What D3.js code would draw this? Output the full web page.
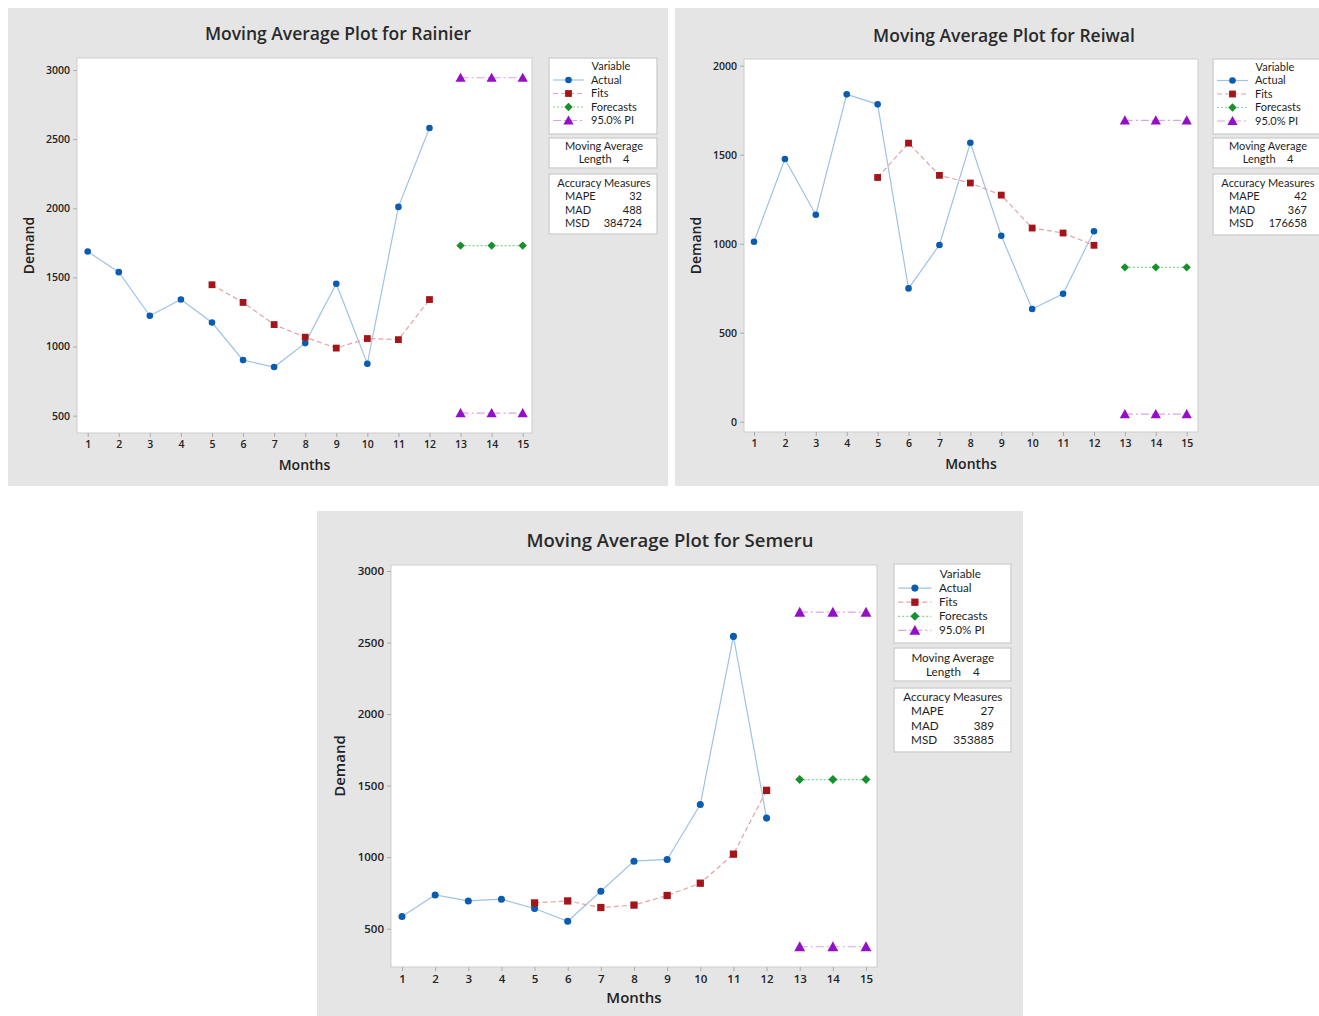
<!DOCTYPE html>
<html>
<head>
<meta charset="utf-8">
<script src="https://cdn.jsdelivr.net/npm/d3@7"></script>
<style>
  body { margin: 0; background: #fff; }
  svg { display: block; }
  text { font-family: "Open Sans", "Noto Sans", sans-serif; fill: #222; }
</style>
</head>
<body>
<svg id="chart" width="1319" height="1016"></svg>
<script>
// months on the x axis (12 observed + 3 forecast)
var months = [1,2,3,4,5,6,7,8,9,10,11,12,13,14,15];
var obsMonths = [1,2,3,4,5,6,7,8,9,10,11,12];
var fitMonths = [5,6,7,8,9,10,11,12];
var fcMonths = [13,14,15];

// Rainier
var rainierActual = [1687,1538,1223,1340,1174,902,852,1025,1454,876,2010,2581];
var rainierFits = [1447,1319,1159,1068,989,1058,1050,1340];
var rainierForecast = [1730,1730,1730];
var rainierUpper = [2944,2944,2944];
var rainierLower = [518,518,518];
var rainierTicks = [500,1000,1500,2000,2500,3000];
var rainierAcc = ["32","488","384724"];

// Reiwal
var reiwalActual = [1011,1476,1163,1839,1783,749,993,1567,1045,633,719,1070];
var reiwalFits = [1372,1565,1384,1341,1273,1088,1060,991];
var reiwalForecast = [867,867,867];
var reiwalUpper = [1693,1693,1693];
var reiwalLower = [42,42,42];
var reiwalTicks = [0,500,1000,1500,2000];
var reiwalAcc = ["42","367","176658"];

// Semeru
var semeruActual = [585,736,694,706,641,552,762,972,984,1368,2543,1273];
var semeruFits = [680,694,648,665,732,818,1021,1467];
var semeruForecast = [1542,1542,1542];
var semeruUpper = [2712,2712,2712];
var semeruLower = [374,374,374];
var semeruTicks = [500,1000,1500,2000,2500,3000];
var semeruAcc = ["27","389","353885"];

var legendNames = ["Actual","Fits","Forecasts","95.0% PI"];
var accNames = ["MAPE","MAD","MSD"];

var col = {
  actual: "#0a5cb0", actualLine: "#9fc2e6",
  fits: "#a3141b", fitsLine: "#e2a4a4",
  fc: "#16912c", fcLine: "#86d494",
  pi: "#9310c6", piLine: "#dca2ee"
};

var svg = d3.select("#chart");

function marker(g, type, x, y, s){
  s = s || 1;
  if(type == "actual"){
    g.append("circle").attr("cx", x).attr("cy", y).attr("r", 3.3*s).attr("fill", col.actual);
  } else if(type == "fits"){
    g.append("rect").attr("x", x-3.4*s).attr("y", y-3.4*s).attr("width", 6.8*s).attr("height", 6.8*s).attr("fill", col.fits);
  } else if(type == "fc"){
    var d = 4.2*s;
    g.append("path").attr("d", "M"+x+","+(y-d)+"L"+(x+d)+","+y+"L"+x+","+(y+d)+"L"+(x-d)+","+y+"Z").attr("fill", col.fc);
  } else {
    var h = 4.6*s;
    g.append("path").attr("d", "M"+x+","+(y-h-0.5)+"L"+(x+h+0.5)+","+(y+h-0.5)+"L"+(x-h-0.5)+","+(y+h-0.5)+"Z").attr("fill", col.pi);
  }
}

var styles = {
  actual: {stroke: col.actualLine, dash: null},
  fits: {stroke: col.fitsLine, dash: "5,3"},
  fc: {stroke: col.fcLine, dash: "2,2"},
  pi: {stroke: col.piLine, dash: "8,3,2,3"}
};

function drawPanel(c){
  var g = svg.append("g");
  g.append("rect").attr("x", c.bg[0]).attr("y", c.bg[1]).attr("width", c.bg[2]-c.bg[0]).attr("height", c.bg[3]-c.bg[1]).attr("fill", "#e5e5e5");

  g.append("text").attr("x", c.titleX).attr("y", c.titleY).attr("text-anchor", "middle")
    .style("font-size", c.titleSize+"px").style("font-weight", 600).style("fill", "#2a2a2a").text(c.title);

  var x = d3.scaleLinear().domain([1,15]).range(c.xr);
  var y = d3.scaleLinear().domain(c.yd).range(c.yr);

  g.append("rect").attr("x", c.plot[0]).attr("y", c.plot[1]).attr("width", c.plot[2]-c.plot[0]).attr("height", c.plot[3]-c.plot[1])
    .attr("fill", "#fff").attr("stroke", "#cdcdcd").attr("stroke-width", 1);

  var yAxis = g.append("g").attr("transform", "translate("+c.plot[0]+",0)")
    .call(d3.axisLeft(y).tickValues(c.ticks).tickSize(4).tickPadding(3).tickFormat(d3.format("d")));
  var xAxis = g.append("g").attr("transform", "translate(0,"+c.plot[3]+")")
    .call(d3.axisBottom(x).tickValues(months).tickSize(4).tickPadding(4).tickFormat(d3.format("d")));
  [xAxis, yAxis].forEach(function(a){
    a.select(".domain").remove();
    a.selectAll(".tick line").attr("stroke", "#aaa");
    a.selectAll(".tick text").style("font-size", c.tickSize+"px").style("font-family", "'Open Sans', sans-serif")
      .style("font-weight", 600).attr("fill", "#333");
  });

  g.append("text").attr("transform", "translate("+c.demandX+","+((c.plot[1]+c.plot[3])/2)+") rotate(-90)")
    .attr("text-anchor", "middle").attr("dy", "0.35em").style("font-size", c.labelSize+"px").style("font-weight", 600).text("Demand");
  g.append("text").attr("x", (c.plot[0]+c.plot[2])/2).attr("y", c.monthsY).attr("text-anchor", "middle").attr("dy", "0.35em")
    .style("font-size", c.labelSize+"px").style("font-weight", 600).text("Months");

  var line = d3.line().x(function(d){return x(d[0]);}).y(function(d){return y(d[1]);});
  var series = [
    {k: "actual", m: obsMonths, v: c.actual},
    {k: "fits", m: fitMonths, v: c.fits},
    {k: "fc", m: fcMonths, v: c.forecast},
    {k: "pi", m: fcMonths, v: c.upper},
    {k: "pi", m: fcMonths, v: c.lower}
  ];
  series.forEach(function(s){
    var pts = s.m.map(function(mm, i){return [mm, s.v[i]];});
    g.append("path").datum(pts).attr("d", line).attr("fill", "none")
      .attr("stroke", styles[s.k].stroke).attr("stroke-width", 1.2).attr("stroke-dasharray", styles[s.k].dash);
  });
  series.forEach(function(s){
    s.m.forEach(function(mm, i){ marker(g, s.k, x(mm), y(s.v[i]), c.ms); });
  });

  // legend boxes
  var L = c.leg, lx = L.x, ly = L.y, k = L.k, fs = L.fs;
  var boxes = [[0, L.b1], [L.b2t, L.b2b], [L.b3t, L.b3b]];
  boxes.forEach(function(b){
    g.append("rect").attr("x", lx).attr("y", ly+b[0]).attr("width", L.w).attr("height", b[1]-b[0])
      .attr("fill", "#fff").attr("stroke", "#d2d2d2").attr("stroke-width", 1.5);
  });
  function t(tx, ty, s, anchor){
    return g.append("text").attr("x", tx).attr("y", ty).attr("dy", "0.35em").attr("text-anchor", anchor || "start")
      .style("font-family", "Lato, 'Open Sans', sans-serif").style("font-size", fs+"px").style("fill", "#1e1e1e").text(s);
  }
  t(lx+62*k, ly+L.r0, "Variable", "middle");
  var keys = ["actual","fits","fc","pi"];
  keys.forEach(function(key, i){
    var ry = ly+L.r0+L.lh*(i+1);
    g.append("line").attr("x1", lx+4*k).attr("x2", lx+35*k).attr("y1", ry).attr("y2", ry)
      .attr("stroke", styles[key].stroke).attr("stroke-width", 1.2).attr("stroke-dasharray", styles[key].dash);
    marker(g, key, lx+19.5*k, ry, c.ms);
    t(lx+42*k, ry, legendNames[i]);
  });
  t(lx+55*k, ly+L.ma, "Moving Average", "middle");
  t(lx+55*k, ly+L.ma+L.lh, "Length    4", "middle").attr("xml:space", "preserve");
  t(lx+55*k, ly+L.acc, "Accuracy Measures", "middle");
  accNames.forEach(function(n, i){
    var ry = ly+L.acc+L.lh*(i+1);
    t(lx+16*k, ry, n);
    t(lx+L.vr, ry, c.acc[i], "end");
  });
}

drawPanel({
  title: "Moving Average Plot for Rainier", titleX: 338, titleY: 40, titleSize: 17.5,
  bg: [8,8,668,486], plot: [77,58,532,433], xr: [87.7,522.7], yd: [500,3000], yr: [415.7,70],
  ticks: rainierTicks, tickSize: 10.5, labelSize: 14, demandX: 29, monthsY: 465, ms: 1,
  actual: rainierActual, fits: rainierFits, forecast: rainierForecast, upper: rainierUpper, lower: rainierLower, acc: rainierAcc,
  leg: {x: 549, y: 58, w: 108, k: 1, fs: 11, r0: 8.5, lh: 13.5, b1: 76, b2t: 80, b2b: 110, ma: 87.7, b3t: 116, b3b: 176, acc: 125, vr: 93}
});

drawPanel({
  title: "Moving Average Plot for Reiwal", titleX: 1004, titleY: 42, titleSize: 17.5,
  bg: [675,8,1319,486], plot: [744,59,1198,432], xr: [754,1186.7], yd: [0,2000], yr: [421.7,65.7],
  ticks: reiwalTicks, tickSize: 10.5, labelSize: 14, demandX: 696, monthsY: 464, ms: 1,
  actual: reiwalActual, fits: reiwalFits, forecast: reiwalForecast, upper: reiwalUpper, lower: reiwalLower, acc: reiwalAcc,
  leg: {x: 1213, y: 59, w: 108, k: 1, fs: 11, r0: 8, lh: 13.5, b1: 75, b2t: 79, b2b: 109, ma: 86.7, b3t: 115, b3b: 176, acc: 124, vr: 94}
});

drawPanel({
  title: "Moving Average Plot for Semeru", titleX: 670, titleY: 547, titleSize: 18.5,
  bg: [317,511,1023,1016], plot: [391,565,877,967], xr: [402,866], yd: [500,3000], yr: [928.7,571],
  ticks: semeruTicks, tickSize: 11.5, labelSize: 15, demandX: 340, monthsY: 998, ms: 1.07,
  actual: semeruActual, fits: semeruFits, forecast: semeruForecast, upper: semeruUpper, lower: semeruLower, acc: semeruAcc,
  leg: {x: 894, y: 564, w: 117, k: 1.07, fs: 11.7, r0: 10, lh: 14.1, b1: 79, b2t: 84, b2b: 117, ma: 94.3, b3t: 124, b3b: 188, acc: 133.3, vr: 100}
});
</script>
</body>
</html>
